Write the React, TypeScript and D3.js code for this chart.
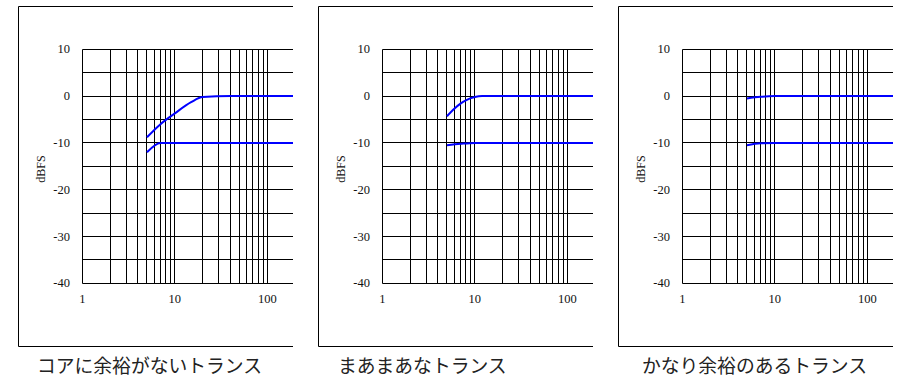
import React from "react";
import * as d3 from "d3";

// ---- data ----
const panelTitles = ["コアに余裕がないトランス", "まあまあなトランス", "かなり余裕のあるトランス"];
const yTicks = [10, 0, -10, -20, -30, -40];
const yGrid = [10, 5, 0, -5, -10, -15, -20, -25, -30, -35, -40];
const xTicks = [1, 10, 100];
const xGrid = [1, 2, 3, 4, 5, 6, 7, 8, 9, 10, 20, 30, 40, 50, 60, 70, 80, 90, 100, 200, 300, 400, 500, 600, 700, 800, 900, 1000];

const p1UpperX = [5, 7, 10, 15, 20, 40, 1000];
const p1UpperY = [-8.8, -6, -3.7, -1.3, -0.2, 0, 0];
const p1LowerX = [5, 7, 1000];
const p1LowerY = [-12, -10, -10];

const p2UpperX = [5, 6, 7, 8, 10, 12, 1000];
const p2UpperY = [-4.3, -2.7, -1.6, -0.9, -0.2, 0, 0];
const p2LowerX = [5, 7, 10, 1000];
const p2LowerY = [-10.5, -10.2, -10, -10];

const p3UpperX = [5, 7, 10, 1000];
const p3UpperY = [-0.5, -0.15, 0, 0];
const p3LowerX = [5, 7, 10, 1000];
const p3LowerY = [-10.5, -10.1, -10, -10];

const panelSeries = [
  [[p1UpperX, p1UpperY], [p1LowerX, p1LowerY]],
  [[p2UpperX, p2UpperY], [p2LowerX, p2LowerY]],
  [[p3UpperX, p3UpperY], [p3LowerX, p3LowerY]],
];
const titleOffsets = [37, 38, 42];

const W = 919;
const H = 388;
const PANEL_STEP = 300;
const FRAME_L = 18.5;
const FRAME_T = 6.5;
const FRAME_B = 346.5;
const CLIP_R = 293;

const x = d3.scaleLog().domain([1, 1000]).range([82.3, 82.3 + 3 * 92.5]);
const y = d3.scaleLinear().domain([10, -40]).range([49.3, 283.3]);
const snap = (v: number) => Math.floor(v) + 0.5;

const serif = "'Liberation Serif', 'Times New Roman', serif";

function Panel({ idx }: { idx: number }) {
  const ox = idx * PANEL_STEP;
  const clipId = `clip${idx}`;
  const line = d3
    .line<[number, number]>()
    .x((d) => x(d[0]))
    .y((d) => y(d[1]))
    .curve(d3.curveMonotoneX);
  const x0 = snap(x(1));
  return (
    <g transform={`translate(${ox},0)`}>
      <defs>
        <clipPath id={clipId}>
          <rect x={0} y={0} width={CLIP_R} height={H} />
        </clipPath>
      </defs>
      <g clipPath={`url(#${clipId})`}>
        {/* frame */}
        <path
          d={`M${CLIP_R + 40},${FRAME_T}H${FRAME_L}V${FRAME_B}H${CLIP_R + 40}`}
          fill="none"
          stroke="#000"
          strokeWidth={1}
        />
        {/* grid */}
        {yGrid.map((v) => (
          <line key={"h" + v} x1={x0} x2={CLIP_R + 40} y1={snap(y(v))} y2={snap(y(v))} stroke="#000" strokeWidth={1} />
        ))}
        {xGrid.map((v) => (
          <line key={"v" + v} x1={snap(x(v))} x2={snap(x(v))} y1={snap(y(10))} y2={snap(y(-40))} stroke="#000" strokeWidth={1} />
        ))}
        {/* series */}
        {panelSeries[idx].map(([xs, ys], i) => (
          <path
            key={"s" + i}
            d={line(xs.map((xv, j) => [xv, ys[j]] as [number, number])) || ""}
            fill="none"
            stroke="#0000ff"
            strokeWidth={2}
          />
        ))}
      </g>
      {/* y tick labels */}
      {yTicks.map((v) => (
        <text key={"yt" + v} x={70} y={y(v) + 4} textAnchor="end" fontFamily={serif} fontSize={12.5} fill="#111">
          {v}
        </text>
      ))}
      {/* x tick labels */}
      {xTicks.map((v) => (
        <text key={"xt" + v} x={x(v)} y={303} textAnchor="middle" fontFamily={serif} fontSize={12.5} fill="#111">
          {v}
        </text>
      ))}
      <text
        transform={`translate(45,169) rotate(-90)`}
        textAnchor="middle"
        fontFamily={serif}
        fontSize={12}
        fill="#111"
      >
        dBFS
      </text>
      <text
        x={titleOffsets[idx]}
        y={373}
        fontFamily="'Noto Sans CJK JP', sans-serif"
        fontSize={18.8}
        fill="#222"
      >
        {panelTitles[idx]}
      </text>
    </g>
  );
}

export default function App() {
  return (
    <svg
      width={W}
      height={H}
      style={{ position: "absolute", left: 0, top: 0, background: "#fff" }}
    >
      <rect x={0} y={0} width={W} height={H} fill="#fff" />
      {[0, 1, 2].map((i) => (
        <Panel key={i} idx={i} />
      ))}
    </svg>
  );
}
